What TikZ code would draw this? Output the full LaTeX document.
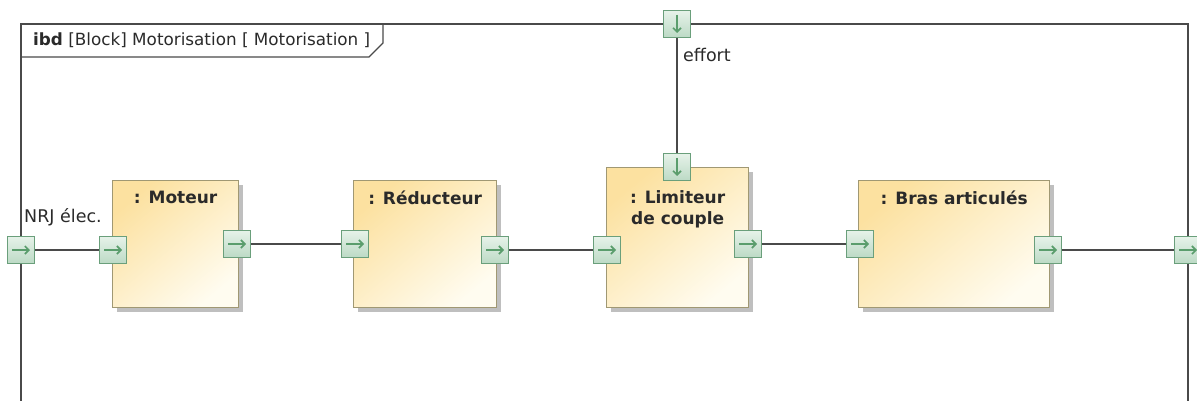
\documentclass[tikz,border=0pt]{standalone}
\usepackage{fontspec}
\setmainfont{DejaVu Sans}
\usetikzlibrary{arrows.meta,shadows}
\definecolor{blkA}{HTML}{FCE1A0}
\definecolor{blkB}{HTML}{FFFCF0}
\definecolor{blkBorder}{HTML}{A09873}
\definecolor{portA}{HTML}{E6F2E9}
\definecolor{portB}{HTML}{BCDAC5}
\definecolor{portBorder}{HTML}{6A9F7B}
\definecolor{portArrow}{HTML}{5A9D6C}
\definecolor{lineC}{HTML}{4A4A4A}
\definecolor{txtC}{HTML}{2A2A2A}
\begin{document}
\begin{tikzpicture}[x=1pt,y=-1pt,
  block/.style={draw=blkBorder, line width=1.3pt, top color=blkA, bottom color=blkB, shading angle=40,
    inner sep=0pt, anchor=north west,
    drop shadow={shadow xshift=4pt, shadow yshift=-4pt, fill=black!25, opacity=1}},
  btitle/.style={font=\fontsize{17}{21}\selectfont\bfseries, text=txtC, inner sep=0pt, anchor=north, align=center},
  port/.style={draw=portBorder, line width=1.1pt, top color=portA, bottom color=portB,
    minimum width=27pt, minimum height=27pt, inner sep=0pt},
  inport/.style={port, path picture={\draw[portArrow, line width=1.6pt, -{Straight Barb[length=4pt,width=8pt]}]
      ([xshift=-9pt]path picture bounding box.center) -- ([xshift=9pt]path picture bounding box.center);}},
  downport/.style={port, path picture={\draw[portArrow, line width=1.6pt, -{Straight Barb[length=4pt,width=8pt]}]
      ([yshift=9pt]path picture bounding box.center) -- ([yshift=-9pt]path picture bounding box.center);}},
  conn/.style={draw=lineC, line width=1.4pt},
  frame/.style={draw=lineC, line width=1.5pt},
  lbl/.style={font=\fontsize{17.5}{19}\selectfont, text=txtC, inner sep=0pt, anchor=west}
]
\useasboundingbox (0,0) rectangle (1197,401);

% frame
\draw[frame] (21,401) -- (21,24) -- (1188,24) -- (1188,401);
\draw[frame, line width=1.2pt] (21,57) -- (369,57) -- (383,43) -- (383,24);
\node[font=\fontsize{16.8}{18}\selectfont, text=txtC, inner sep=0pt, anchor=west] (title) at (33,40)
  {\textbf{ibd} [Block] Motorisation [ Motorisation ]};

% blocks
\node[block, minimum width=126pt, minimum height=127pt] (mot) at (112,180) {};
\node[block, minimum width=143pt, minimum height=127pt] (red) at (353,180) {};
\node[block, minimum width=142pt, minimum height=140pt] (lim) at (606,167) {};
\node[block, minimum width=191pt, minimum height=127pt] (bras) at (858,180) {};

\node[btitle] (tmot) at ([yshift=-11pt]mot.north) {: Moteur};
\node[btitle] (tred) at ([yshift=-11pt]red.north) {: Réducteur};
\node[btitle] (tlim) at ([yshift=-23pt]lim.north) {: Limiteur\\de couple};
\node[btitle] (tbras) at ([yshift=-11pt]bras.north) {: Bras articulés};

% ports
\node[inport] (pL) at (21,250) {};
\node[inport] (mIn) at (113,250) {};
\node[inport] (mOut) at (237,244) {};
\node[inport] (rIn) at (355,244) {};
\node[inport] (rOut) at (495,250) {};
\node[inport] (lIn) at (607,250) {};
\node[inport] (lOut) at (748,244) {};
\node[inport] (bIn) at (860,244) {};
\node[inport] (bOut) at (1048,250) {};
\node[inport] (pR) at (1188,250) {};
\node[downport] (pTop) at (677,24) {};
\node[downport] (lTop) at (677,167) {};

% connectors
\draw[conn] (pL) -- (mIn);
\draw[conn] (mOut) -- (rIn);
\draw[conn] (rOut) -- (lIn);
\draw[conn] (lOut) -- (bIn);
\draw[conn] (bOut) -- (pR);
\draw[conn] (pTop) -- (lTop);

% labels
\node[lbl] (nrj) at (24,217) {NRJ élec.};
\node[lbl] (eff) at (683,55) {effort};
\end{tikzpicture}
\end{document}
